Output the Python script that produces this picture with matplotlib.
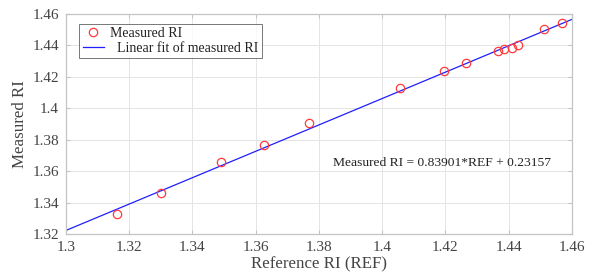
import matplotlib
matplotlib.use("Agg")
import matplotlib.pyplot as plt
import numpy as np

plt.rcParams["font.family"] = ["Liberation Serif", "DejaVu Serif"]

# measured vs reference refractive index
ref_ri = [1.3161, 1.3301, 1.3491, 1.3627, 1.3768, 1.4057, 1.4196, 1.4265,
          1.4367, 1.4386, 1.4411, 1.4431, 1.4513, 1.4570]
meas_ri = [1.3325, 1.3459, 1.3660, 1.3764, 1.3908, 1.4129, 1.4235, 1.4288,
           1.4366, 1.4375, 1.4386, 1.4401, 1.4507, 1.4545]

# linear fit shown on the chart
slope, intercept = 0.83901, 0.23157
fit_x = [1.30, 1.46]

xticks = [1.3, 1.32, 1.34, 1.36, 1.38, 1.4, 1.42, 1.44, 1.46]
yticks = [1.32, 1.34, 1.36, 1.38, 1.4, 1.42, 1.44, 1.46]

fig = plt.figure(figsize=(5.95, 2.74), dpi=100)
ax = fig.add_axes([0.111, 0.146, 0.850, 0.803])

ax.plot(ref_ri, meas_ri, "o", mfc="none", mec="#ff3b3b", ms=6, mew=0.9,
        label="Measured RI", zorder=3)
fx = np.array(fit_x)
ax.plot(fx, slope * fx + intercept, color="#1f1fff", lw=0.9,
        label="  Linear fit of measured RI", zorder=2)

ax.set_xlim(1.30, 1.46)
ax.set_ylim(1.32, 1.46)
ax.set_xticks(xticks)
ax.set_xticklabels([f"{v:g}" for v in xticks])
ax.set_yticks(yticks)
ax.set_yticklabels([f"{v:g}" for v in yticks])
ax.grid(True, color="#e4e4e4", lw=0.7)
ax.set_axisbelow(True)
for s in ax.spines.values():
    s.set_color("#c4c4c4")
    s.set_linewidth(0.9)
ax.tick_params(direction="in", length=3, color="#c4c4c4", labelsize=11,
               labelcolor="#444444", top=True, right=True, pad=5)

ax.set_xlabel("Reference RI (REF)", fontsize=12.2, color="#444444", labelpad=2)
ax.set_ylabel("Measured RI", fontsize=12.2, color="#444444", labelpad=3)

ax.text(1.3844, 1.3652, "Measured RI = 0.83901*REF + 0.23157", fontsize=9.7,
        va="center", ha="left", color="#222222")

leg = ax.legend(loc="upper left", bbox_to_anchor=(0.026, 0.955), fontsize=10,
                fancybox=False, frameon=True, borderpad=0.25, labelspacing=0.1,
                handlelength=1.5, handletextpad=0.5, borderaxespad=0)
leg.get_frame().set_edgecolor("#555555")
leg.get_frame().set_linewidth(0.7)
for t in leg.get_texts():
    t.set_color("#222222")

fig.savefig("out.png", dpi=100)
